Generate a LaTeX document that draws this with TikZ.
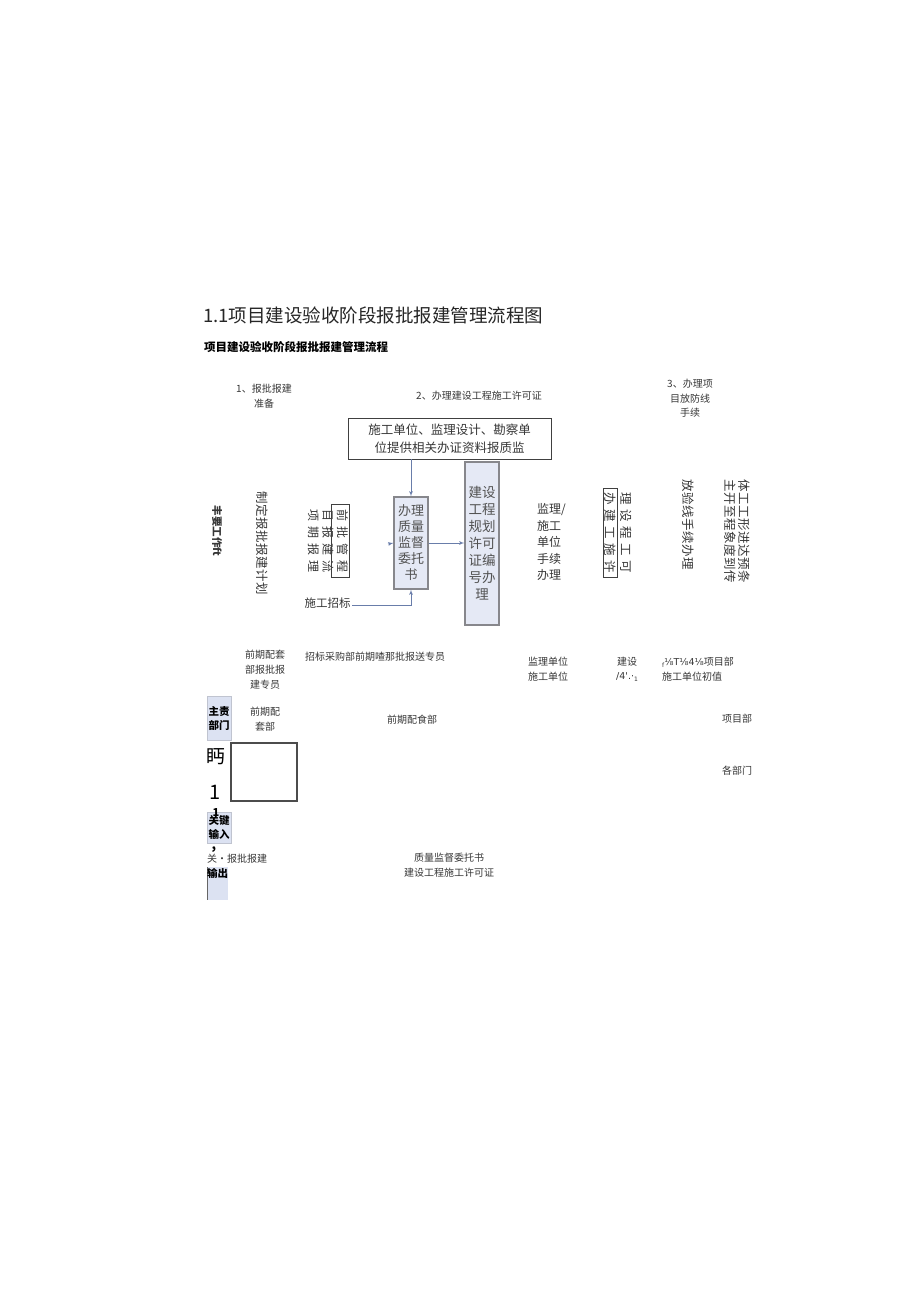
\documentclass[tikz,border=0pt]{standalone}
\usepackage{fontspec}
\usepackage{tikz}
\usetikzlibrary{
  positioning,
  arrows
}
\usepackage{xcolor}
\newfontfamily\cjk{Noto Sans CJK SC}
\newfontfamily\djv{DejaVu Sans}
\definecolor{txtgray}{RGB}{55,55,55}
\definecolor{boxfill}{RGB}{229,233,245}
\definecolor{boxline}{RGB}{135,135,140}
\definecolor{arrowblue}{RGB}{105,125,170}
\definecolor{tagfill}{RGB}{220,226,242}

\begin{document}
\begin{tikzpicture}[x=1pt,y=-1pt,>=latex',
        lbl/.style={font=\cjk\fontsize{10}{15}\selectfont,text=txtgray,align=center,inner sep=0pt},
        mid/.style={font=\cjk\fontsize{12}{16.5}\selectfont,text=txtgray,align=left,inner sep=0pt},
        upright/.style={font={\cjk\fontsize{12.5}{14}\selectfont\addfontfeature{LetterSpace=4}},text=txtgray,inner sep=0pt,rotate=-90,align=center},
        spaced/.style={font={\cjk\fontsize{12}{14.5}\selectfont\addfontfeature{LetterSpace=42}},text=txtgray,inner sep=0pt,rotate=-90,align=center},
        bluebox/.style={draw=boxline,line width=1.2pt,fill=boxfill,text=black!68,align=center,inner sep=0pt},
        tag/.style={fill=tagfill,draw=tagfill!70!gray,font=\cjk\bfseries\fontsize{10.5}{14}\selectfont,align=center,inner sep=0pt,minimum width=24},
        flow/.style={->,draw=arrowblue,line width=0.8pt}]
        \fill[white] (0,0) rectangle (920,1301);
        \useasboundingbox (0,0) rectangle (920,1301);

        \node[lbl,anchor=west,font=\cjk\fontsize{18.5}{20}\selectfont,text=black!85] (title) at (203,315) {1.1项目建设验收阶段报批报建管理流程图};
        \node[lbl,anchor=west,font=\cjk\bfseries\fontsize{11.5}{13}\selectfont,text=black] (subtitle) at (204,347) {项目建设验收阶段报批报建管理流程};

        \node[lbl] (stepone) at (264,396.5) {1、报批报建\\准备};
        \node[lbl] (steptwo) at (479,396) {2、办理建设工程施工许可证};
        \node[lbl,font=\cjk\fontsize{10}{14.5}\selectfont] (stepthree) at (690,398.5) {3、办理项\\目放防线\\手续};

        \node[draw=black!75,line width=0.8pt,minimum width=203,minimum height=41,inner sep=0pt,align=center,
              font=\cjk\fontsize{12.5}{18}\selectfont,text=txtgray] (docs) at (449.5,438.5) {施工单位、监理设计、勘察单\\位提供相关办证资料报质监};

        \node[bluebox,minimum width=34,minimum height=92,font=\cjk\fontsize{13}{16}\selectfont] (quality) at (411,543) {办理\\质量\\监督\\委托\\书};
        \node[bluebox,minimum width=34,minimum height=163,font=\cjk\fontsize{13.5}{17}\selectfont] (planning) at (482,543.5) {建设\\工程\\规划\\许可\\证编\\号办\\理};
        \node[lbl,font=\cjk\fontsize{11.5}{13}\selectfont] (bidding) at (327.5,603) {施工招标};
        \coordinate (qin) at (388,544);
        \coordinate (bidend) at (352,605);

        \draw[flow] (docs.south -| quality.north) -- (quality.north);
        \draw[flow] (qin) -- (quality.west);
        \draw[flow] (quality.east) -- (quality.east -| planning.west);
        \draw[flow] (bidend) -| (quality.south);

        \node[upright,font=\cjk\bfseries\fontsize{10.5}{12}\selectfont] (maintask) at (217,531) {丰要工作ft};
        \node[upright] (plan) at (262,543) {制定报批报建计划};
        \node[spaced] (preapp) at (328,541) {前批管程\\目报建流\\项期报理};
        \draw[black!75,line width=0.8pt] (331,504) rectangle (349,577);

        \node[mid,anchor=west] (supervise) at (537,542) {监理/\\施工\\单位\\手续\\办理};
        \node[spaced,font={\cjk\fontsize{12.5}{16}\selectfont\addfontfeature{LetterSpace=36}}] (permit) at (618,533) {理设程工可\\办建工施许};
        \draw[black!75,line width=0.8pt] (603,488) rectangle (617,577);
        \node[upright] (setout) at (688,525) {放验线手续办理};
        \node[upright] (progress) at (737,531) {体工工形进达预条\\主开至程象度到传};

        \node[lbl] (deptone) at (265,670) {前期配套\\部报批报\\建专员};
        \node[lbl] (depttwo) at (375,657) {招标采购部前期喳那批报送专员};
        \node[lbl] (deptthree) at (548,669.5) {监理单位\\施工单位};
        \node[lbl] (deptfour) at (627,662) {建设};
        \node[lbl,font=\djv\fontsize{9.5}{11}\selectfont,text=black!80] (deptfive) at (627,677) {/4'.·\raisebox{-2pt}{\fontsize{6}{6}\selectfont 1}};
        \node[lbl,anchor=west] (deptsix) at (662,662) {\raisebox{-2pt}{\djv\fontsize{6}{6}\selectfont f}{\djv\fontsize{9.5}{11}\selectfont ⅛T⅛4⅛}项目部};
        \node[lbl,anchor=west] (deptseven) at (662,677) {施工单位初值};

        \node[tag,minimum height=44] (owner) at (219,718) {主责\\部门};
        \node[lbl] (ownerone) at (265,719.5) {前期配\\套部};
        \node[lbl] (ownertwo) at (412,720) {前期配食部};
        \node[lbl] (ownerthree) at (737,719) {项目部};
        \node[lbl] (ownerfour) at (737,771) {各部门};

        \node[lbl,font=\cjk\fontsize{19}{20}\selectfont,text=black] (odd) at (216,757) {眄};
        \draw[black!70,line width=1.8pt] (231,743) rectangle (297,801);
        \node[lbl,font=\cjk\fontsize{20}{20}\selectfont,text=black] (one) at (215,792) {1};

        \node[tag,minimum height=31] (input) at (219,827.5) {关键\\输入};
        \node[lbl,font=\cjk\bfseries\fontsize{11}{11}\selectfont,text=black] (onesmall) at (216,812) {1};
        \node[lbl,font=\cjk\bfseries\fontsize{13}{13}\selectfont,text=black] (comma) at (214,850) {,};
        \node[lbl,anchor=west] (keyin) at (207,859) {关·报批报建};
        \fill[tagfill] (207,867) rectangle (228,900);
        \draw[black!60,line width=1pt] (207,867) -- (207,900);
        \node[lbl,font=\cjk\bfseries\fontsize{10.5}{12}\selectfont,text=black] (output) at (217.5,873) {输出};
        \node[lbl] (keyout) at (449,865.5) {质量监督委托书\\建设工程施工许可证};
    \end{tikzpicture}
\end{document}
